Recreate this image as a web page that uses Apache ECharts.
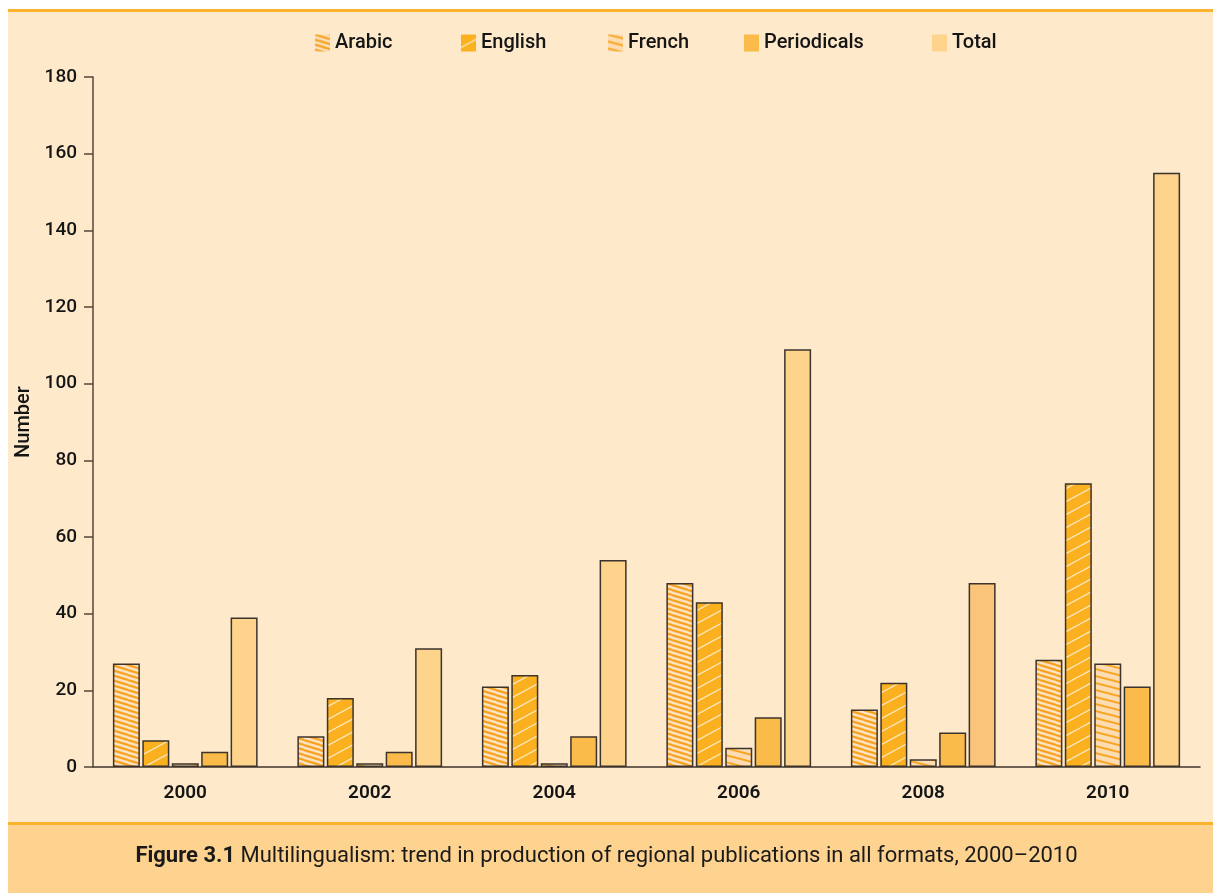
<!DOCTYPE html>
<html>
<head>
<meta charset="utf-8">
<script src="https://cdn.jsdelivr.net/npm/echarts@6/dist/echarts.min.js"></script>
<style>
  html, body { margin: 0; padding: 0; background: #fff; }
  #chart { width: 1213px; height: 893px; }
</style>
</head>
<body>
<div id="chart"></div>
<script>
  const years = ['2000', '2002', '2004', '2006', '2008', '2010'];
  const arabic = [27, 8, 21, 48, 15, 28];
  const english = [7, 18, 24, 43, 22, 74];
  const french = [1, 1, 1, 5, 2, 27];
  const periodicals = [4, 4, 8, 13, 9, 21];
  const total = [39, 31, 54, 109, 48, 155];

  // striped fills for the language bars
  function stripes(bg, fg, w, h, lw, up) {
    const c = document.createElement('canvas');
    c.width = w;
    c.height = h;
    const ctx = c.getContext('2d');
    ctx.fillStyle = bg;
    ctx.fillRect(0, 0, w, h);
    ctx.strokeStyle = fg;
    ctx.lineWidth = lw;
    for (let k = -1; k <= 1; k++) {
      ctx.beginPath();
      if (up) {
        ctx.moveTo(0, h + k * h);
        ctx.lineTo(w, k * h);
      } else {
        ctx.moveTo(0, k * h);
        ctx.lineTo(w, h + k * h);
      }
      ctx.stroke();
    }
    return { image: c, repeat: 'repeat' };
  }

  const arabicFill = stripes('#fde2bf', '#f7a21f', 16, 5, 2.2, false);
  const englishFill = stripes('#fbb01f', '#fde7bd', 24, 13, 1.3, true);
  const frenchFill = stripes('#fddcb1', '#f7a522', 27, 7, 2, false);

  const edge = '#3b332c';
  const bg = '#feeacb';

  const chart = echarts.init(document.getElementById('chart'));

  function legend(name, x) {
    return {
      data: [name],
      left: x - 5,
      top: 28,
      icon: 'rect',
      itemWidth: 15,
      itemHeight: 17,
      itemGap: 0,
      itemStyle: { borderWidth: 0 },
      textStyle: { fontSize: 20, color: '#151515', fontFamily: 'Roboto', fontWeight: 500 }
    };
  }

  function bars(name, values, fill) {
    return {
      name: name,
      type: 'bar',
      barWidth: 27,
      barGap: '9%',
      data: values,
      itemStyle: { color: fill, borderColor: edge, borderWidth: 1.5 }
    };
  }

  const totalSeries = bars('Total', total.map(function (v, i) {
    return i === 4 ? { value: v, itemStyle: { color: '#fac47b' } } : v;
  }), '#fed38c');

  const option = {
    animation: false,
    textStyle: { fontFamily: 'Roboto' },
    graphic: [
      { type: 'rect', shape: { x: 8, y: 10, width: 1205, height: 813 }, style: { fill: bg }, z: -10 },
      { type: 'rect', shape: { x: 8, y: 9, width: 1205, height: 3 }, style: { fill: '#fbb22c' }, z: -9 },
      { type: 'rect', shape: { x: 8, y: 823, width: 1205, height: 70 }, style: { fill: '#fed38f' }, z: -10 },
      { type: 'rect', shape: { x: 8, y: 822, width: 1205, height: 3 }, style: { fill: '#fbb22c' }, z: -9 },
      {
        type: 'text',
        left: 'center',
        top: 845,
        style: {
          text: '{b|Figure 3.1} Multilingualism: trend in production of regional publications in all formats, 2000\u20132010',
          fontSize: 22,
          fontFamily: 'Roboto',
          fill: '#1a1a1a',
          rich: { b: { fontSize: 22, fontWeight: 'bold', fontFamily: 'Roboto', fill: '#1a1a1a' } }
        }
      }
    ],
    legend: [
      legend('Arabic', 315),
      legend('English', 461),
      legend('French', 608),
      legend('Periodicals', 744),
      legend('Total', 932)
    ],
    grid: { left: 93, right: 13, top: 77, bottom: 126 },
    xAxis: {
      type: 'category',
      data: years,
      axisLine: { lineStyle: { color: '#3f352c', width: 1.5 } },
      axisTick: { length: 15, interval: 0, lineStyle: { color: '#2f2a25', width: 1.5 } },
      axisLabel: { fontSize: 19, fontWeight: 600, color: '#151515', margin: 17 }
    },
    yAxis: {
      type: 'value',
      min: 0,
      max: 180,
      interval: 20,
      name: 'Number',
      nameLocation: 'middle',
      nameGap: 56,
      nameRotate: 90,
      nameTextStyle: { fontSize: 20, fontWeight: 500, color: '#151515' },
      axisLine: { show: true, lineStyle: { color: '#54463a', width: 1.5 } },
      axisTick: { show: true, length: 9, lineStyle: { color: '#54463a', width: 1.5 } },
      axisLabel: { fontSize: 19, color: '#151515', margin: 16, fontWeight: 500 },
      splitLine: { show: false }
    },
    series: [
      bars('Arabic', arabic, arabicFill),
      bars('English', english, englishFill),
      bars('French', french, frenchFill),
      bars('Periodicals', periodicals, '#fbbb4a'),
      totalSeries
    ]
  };

  chart.setOption(option);
</script>
</body>
</html>
